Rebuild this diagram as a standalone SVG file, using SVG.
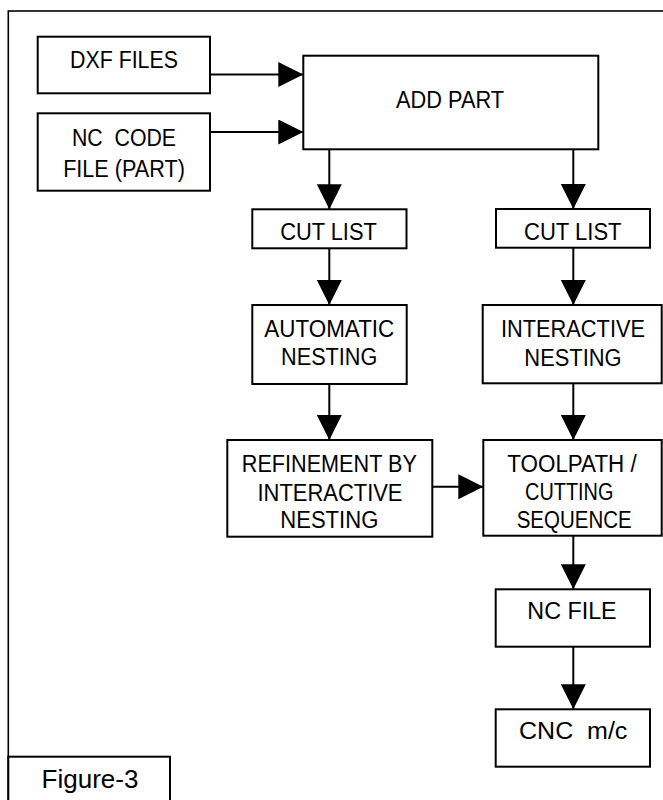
<svg xmlns="http://www.w3.org/2000/svg" width="663" height="800" viewBox="0 0 663 800">
<style>
.box{fill:#fff;stroke:#000;stroke-width:2}
.frame{fill:none;stroke:#000;stroke-width:1.6}
.lbl{font-family:"Liberation Sans",Arial,sans-serif;font-size:23.5px;fill:#000;text-anchor:middle}
.reg{font-family:"Liberation Sans",Arial,sans-serif;font-size:23px;fill:#000;text-anchor:middle}
.con{fill:none;stroke:#000;stroke-width:2}
</style>
<defs>
<marker id="ah" markerUnits="userSpaceOnUse" markerWidth="26" markerHeight="26" refX="25" refY="12.5" orient="auto" viewBox="0 0 26 26">
<path d="M0,0 L25,12.5 L0,25 Z" fill="#000"/>
</marker>
</defs>
<rect id="frame" class="frame" x="8.3" y="11" width="720" height="820"/>
<g id="connectors">
<line class="con" x1="210" y1="74.5" x2="303.3" y2="74.5" marker-end="url(#ah)"/>
<line class="con" x1="210" y1="132" x2="303.3" y2="132" marker-end="url(#ah)"/>
<line class="con" x1="329.3" y1="149.3" x2="329.3" y2="209.3" marker-end="url(#ah)"/>
<line class="con" x1="573.3" y1="149.3" x2="573.3" y2="209" marker-end="url(#ah)"/>
<line class="con" x1="329.3" y1="248.3" x2="329.3" y2="305" marker-end="url(#ah)"/>
<line class="con" x1="573.3" y1="247.7" x2="573.3" y2="305" marker-end="url(#ah)"/>
<line class="con" x1="329.3" y1="384" x2="329.3" y2="440" marker-end="url(#ah)"/>
<line class="con" x1="573.3" y1="383.3" x2="573.3" y2="440" marker-end="url(#ah)"/>
<line class="con" x1="432.3" y1="486.7" x2="483.3" y2="486.7" marker-end="url(#ah)"/>
<line class="con" x1="573.3" y1="535.7" x2="573.3" y2="589.3" marker-end="url(#ah)"/>
<line class="con" x1="573.3" y1="646.7" x2="573.3" y2="709.3" marker-end="url(#ah)"/>
</g>
<g id="dxf">
<rect class="box" x="37.7" y="36.7" width="172.3" height="56.6"/>
<text class="lbl" x="124" y="67.7" textLength="108" lengthAdjust="spacingAndGlyphs">DXF FILES</text>
</g>
<g id="nccode">
<rect class="box" x="37.7" y="113.3" width="172.3" height="77.4"/>
<text class="lbl" x="124" y="145.7" textLength="104" lengthAdjust="spacingAndGlyphs" xml:space="preserve">NC  CODE</text>
<text class="lbl" x="124" y="176.7" textLength="121.7" lengthAdjust="spacingAndGlyphs">FILE (PART)</text>
</g>
<g id="addpart">
<rect class="box" x="303.3" y="55.7" width="295" height="93.6"/>
<text class="lbl" x="450" y="107.7" textLength="108" lengthAdjust="spacingAndGlyphs">ADD PART</text>
</g>
<g id="cutlist1">
<rect class="box" x="252.3" y="209.3" width="154.2" height="39"/>
<text class="lbl" x="328.5" y="240" textLength="96.7" lengthAdjust="spacingAndGlyphs">CUT LIST</text>
</g>
<g id="cutlist2">
<rect class="box" x="496" y="209" width="154" height="38.7"/>
<text class="lbl" x="572.8" y="240" textLength="97.5" lengthAdjust="spacingAndGlyphs">CUT LIST</text>
</g>
<g id="autonest">
<rect class="box" x="252.3" y="305" width="154.4" height="79"/>
<text class="lbl" x="329.3" y="336.7" textLength="130" lengthAdjust="spacingAndGlyphs">AUTOMATIC</text>
<text class="lbl" x="329.2" y="365" textLength="96.3" lengthAdjust="spacingAndGlyphs">NESTING</text>
</g>
<g id="internest">
<rect class="box" x="482.7" y="305" width="179" height="78.3"/>
<text class="lbl" x="573" y="337.3" textLength="144" lengthAdjust="spacingAndGlyphs">INTERACTIVE</text>
<text class="lbl" x="573" y="365.7" textLength="97.3" lengthAdjust="spacingAndGlyphs">NESTING</text>
</g>
<g id="refine">
<rect class="box" x="227.3" y="440" width="205" height="96.7"/>
<text class="lbl" x="329.3" y="471.7" textLength="175" lengthAdjust="spacingAndGlyphs">REFINEMENT BY</text>
<text class="lbl" x="330" y="501" textLength="145" lengthAdjust="spacingAndGlyphs">INTERACTIVE</text>
<text class="lbl" x="329.3" y="528.3" textLength="98" lengthAdjust="spacingAndGlyphs">NESTING</text>
</g>
<g id="toolpath">
<rect class="box" x="483.3" y="440" width="178.4" height="95.7"/>
<text class="lbl" x="572" y="471.7" textLength="129.3" lengthAdjust="spacingAndGlyphs">TOOLPATH /</text>
<text class="lbl" x="569.2" y="500" textLength="88.3" lengthAdjust="spacingAndGlyphs">CUTTING</text>
<text class="lbl" x="574.2" y="527.7" textLength="115" lengthAdjust="spacingAndGlyphs">SEQUENCE</text>
</g>
<g id="ncfile">
<rect class="box" x="495.7" y="589.3" width="154.3" height="57.4"/>
<text class="reg" x="572" y="619" textLength="89.3" lengthAdjust="spacingAndGlyphs">NC FILE</text>
</g>
<g id="cnc">
<rect class="box" x="495.7" y="709.3" width="154.3" height="57.4"/>
<text class="reg" x="573.2" y="739.3" textLength="108.3" lengthAdjust="spacingAndGlyphs" xml:space="preserve">CNC  m/c</text>
</g>
<g id="figure">
<rect class="box" x="8.3" y="756.7" width="161.7" height="60"/>
<text x="90" y="788.3" style="font-family:'Liberation Sans',Arial,sans-serif;font-size:26px;text-anchor:middle">Figure-3</text>
</g>
</svg>
